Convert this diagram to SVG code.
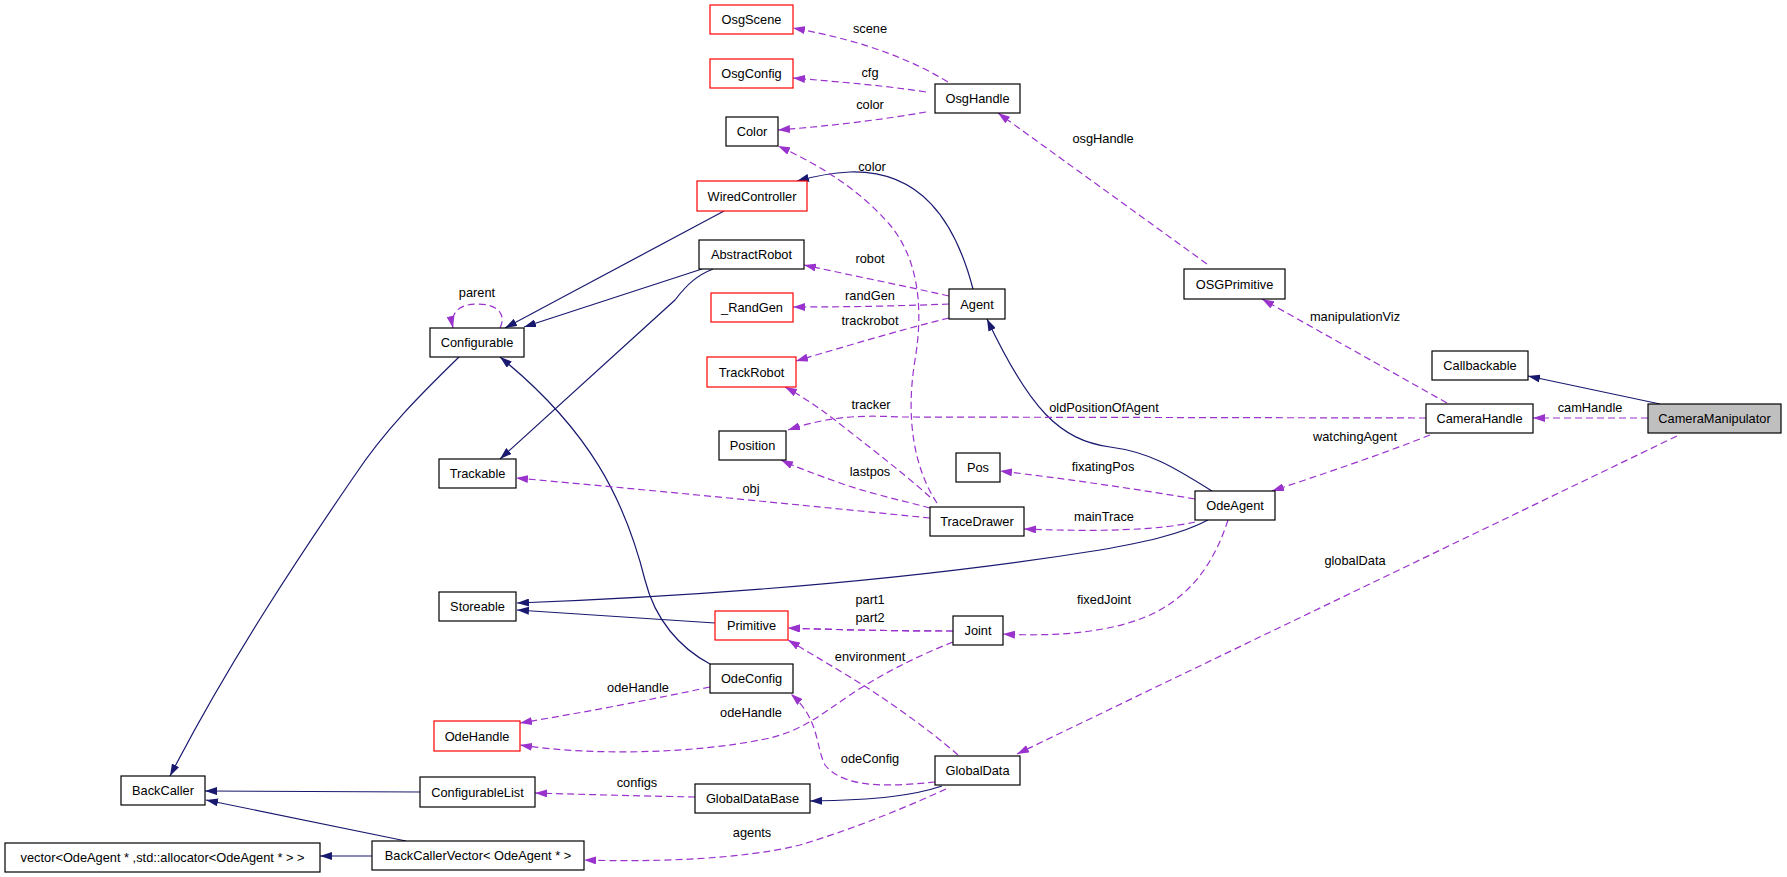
<svg xmlns="http://www.w3.org/2000/svg" width="1787" height="877" viewBox="0 0 1787 877">
<style>
text{font-family:"Liberation Sans",Arial,Helvetica,sans-serif;font-size:12.8px;fill:#000;text-anchor:middle}
.n rect{fill:#fff;stroke:#000;stroke-width:1.2}
.n.r rect{stroke:#ff0000}
.n.g rect{fill:#bfbfbf}
.inh{fill:none;stroke:#191970;stroke-width:1.2;marker-end:url(#ab)}
.use{fill:none;stroke:#9a32cd;stroke-width:1.2;stroke-dasharray:7,4;marker-end:url(#ap)}
</style>
<defs>
<marker id="ab" viewBox="0 0 12 8" refX="12" refY="4" markerWidth="12" markerHeight="8" markerUnits="userSpaceOnUse" orient="auto"><path d="M0,0 L12,4 L0,8 z" fill="#191970"/></marker>
<marker id="ap" viewBox="0 0 12 8" refX="12" refY="4" markerWidth="12" markerHeight="8" markerUnits="userSpaceOnUse" orient="auto"><path d="M0,0 L12,4 L0,8 z" fill="#9a32cd"/></marker>
</defs>
<rect width="1787" height="877" fill="#fff"/>
<g id="connectors">
<path class="inh" d="M1660,404 L1528,376"/>
<path class="inh" d="M973,289 C955,220 920,170 850,172 C830,173 815,176 797,181"/>
<path class="inh" d="M724,211 L505,328"/>
<path class="inh" d="M702,269 L524,327"/>
<path class="inh" d="M713,269 C698,275 688,283 675,300 L500,459"/>
<path class="inh" d="M710,664 C680,648 655,620 645,580 C625,500 590,430 500,357"/>
<path class="inh" d="M1212,491 C1175,468 1150,452 1110,447 C1060,440 1030,410 987,319"/>
<path class="inh" d="M1208,520 C1180,535 1140,543 1100,550 C900,582 700,596 517,603"/>
<path class="inh" d="M715,623 L517,610"/>
<path class="inh" d="M420,792 L205,791"/>
<path class="inh" d="M406,841 L206,800"/>
<path class="inh" d="M372,856 L320,856"/>
<path class="inh" d="M459,357 C420,395 385,430 355,475 C300,555 230,660 170,776"/>
<path class="inh" d="M942,786 C915,795 880,800 810,801"/>

<path class="use" d="M948,82 C915,62 870,42 793,28"/>
<text x="870" y="33">scene</text>
<path class="use" d="M926,92 C880,85 840,82 793,78"/>
<text x="870" y="77">cfg</text>
<path class="use" d="M926,112 C880,120 830,126 778,130"/>
<text x="870" y="109">color</text>
<path class="use" d="M1207,264 L998,113"/>
<text x="1103" y="143">osgHandle</text>
<path class="use" d="M937,503 C915,470 905,420 915,360 C925,300 915,255 890,225 C860,190 820,165 778,146"/>
<text x="872" y="171">color</text>
<path class="use" d="M949,296 C900,285 850,275 804,265"/>
<text x="870" y="263">robot</text>
<path class="use" d="M949,304 C900,306 850,307 793,307"/>
<text x="870" y="300">randGen</text>
<path class="use" d="M949,318 C900,330 850,345 796,361"/>
<text x="870" y="325">trackrobot</text>
<path class="use" d="M1447,403 L1262,299"/>
<text x="1355" y="321">manipulationViz</text>
<path class="use" d="M1426,418 L900,417 C860,415 830,416 788,430"/>
<text x="1104" y="412">oldPositionOfAgent</text>
<path class="use" d="M930,497 C900,470 860,440 835,420 C815,405 800,395 785,387"/>
<text x="871" y="409">tracker</text>
<path class="use" d="M930,508 C900,500 868,493 840,483 C815,474 798,468 781,460"/>
<text x="870" y="476">lastpos</text>
<path class="use" d="M930,518 C800,505 650,490 516,478"/>
<text x="751" y="493">obj</text>
<path class="use" d="M1195,499 C1130,488 1060,478 1000,471"/>
<text x="1103" y="471">fixatingPos</text>
<path class="use" d="M1195,522 C1160,530 1100,532 1024,529"/>
<text x="1104" y="521">mainTrace</text>
<path class="use" d="M1648,418 L1533,418"/>
<text x="1590" y="412">camHandle</text>
<path class="use" d="M1430,435 C1380,455 1320,475 1272,491"/>
<text x="1355" y="441">watchingAgent</text>
<path class="use" d="M1677,436 L1017,754"/>
<text x="1355" y="565">globalData</text>
<path class="use" d="M1228,520 C1215,560 1195,590 1160,610 C1120,632 1060,637 1003,634"/>
<text x="1104" y="604">fixedJoint</text>
<path class="use" d="M953,631 C900,631 840,630 788,628"/>
<path class="use" d="M953,631 C900,631 840,630 788,628"/>
<text x="870" y="604">part1</text>
<text x="870" y="622">part2</text>
<path class="use" d="M953,642 C915,657 880,675 850,695 C820,715 800,733 760,740 C700,752 600,757 520,745"/>
<text x="751" y="717">odeHandle</text>
<path class="use" d="M710,687 C650,700 580,713 520,723"/>
<text x="638" y="692">odeHandle</text>
<path class="use" d="M958,755 C930,730 880,695 850,677 C825,662 805,650 788,640"/>
<text x="870" y="661">environment</text>
<path class="use" d="M935,782 C895,786 845,790 825,765 C815,745 820,720 791,694"/>
<text x="870" y="763">odeConfig</text>
<path class="use" d="M695,797 C650,796 600,795 535,793"/>
<text x="637" y="787">configs</text>
<path class="use" d="M946,789 C900,810 850,830 800,845 C740,860 650,862 584,860"/>
<text x="752" y="837">agents</text>
<path class="use" d="M500,328 C506,316 500,304 477,304 C458,304 450,314 453,328"/>
<text x="477" y="297">parent</text>
</g>

<g id="CameraManipulator" class="n g"><rect x="1648" y="404" width="133" height="29"/><text x="1714.5" y="423">CameraManipulator</text></g>
<g id="Callbackable" class="n"><rect x="1432" y="351" width="96" height="29"/><text x="1480" y="370">Callbackable</text></g>
<g id="CameraHandle" class="n"><rect x="1426" y="404" width="107" height="29"/><text x="1479.5" y="423">CameraHandle</text></g>
<g id="OSGPrimitive" class="n"><rect x="1184" y="269" width="101" height="30"/><text x="1234.5" y="289">OSGPrimitive</text></g>
<g id="OdeAgent" class="n"><rect x="1195" y="491" width="80" height="29"/><text x="1235" y="510">OdeAgent</text></g>
<g id="OsgHandle" class="n"><rect x="935" y="84" width="85" height="29"/><text x="977.5" y="103">OsgHandle</text></g>
<g id="Agent" class="n"><rect x="949" y="289" width="56" height="30"/><text x="977" y="309">Agent</text></g>
<g id="Pos" class="n"><rect x="956" y="453" width="44" height="29"/><text x="978" y="472">Pos</text></g>
<g id="TraceDrawer" class="n"><rect x="930" y="507" width="94" height="29"/><text x="977" y="526">TraceDrawer</text></g>
<g id="Joint" class="n"><rect x="953" y="616" width="50" height="29"/><text x="978" y="635">Joint</text></g>
<g id="GlobalData" class="n"><rect x="935" y="756" width="85" height="29"/><text x="977.5" y="775">GlobalData</text></g>
<g id="OsgScene" class="n r"><rect x="710" y="5" width="83" height="29"/><text x="751.5" y="24">OsgScene</text></g>
<g id="OsgConfig" class="n r"><rect x="710" y="59" width="83" height="29"/><text x="751.5" y="78">OsgConfig</text></g>
<g id="Color" class="n"><rect x="726" y="117" width="52" height="29"/><text x="752" y="136">Color</text></g>
<g id="WiredController" class="n r"><rect x="697" y="181" width="110" height="30"/><text x="752" y="201">WiredController</text></g>
<g id="AbstractRobot" class="n"><rect x="699" y="240" width="105" height="29"/><text x="751.5" y="259">AbstractRobot</text></g>
<g id="RandGen" class="n r"><rect x="711" y="293" width="82" height="29"/><text x="752" y="312">_RandGen</text></g>
<g id="TrackRobot" class="n r"><rect x="707" y="357" width="89" height="30"/><text x="751.5" y="377">TrackRobot</text></g>
<g id="Position" class="n"><rect x="719" y="431" width="67" height="29"/><text x="752.5" y="450">Position</text></g>
<g id="Primitive" class="n r"><rect x="715" y="611" width="73" height="29"/><text x="751.5" y="630">Primitive</text></g>
<g id="OdeConfig" class="n"><rect x="710" y="664" width="83" height="29"/><text x="751.5" y="683">OdeConfig</text></g>
<g id="GlobalDataBase" class="n"><rect x="695" y="784" width="115" height="29"/><text x="752.5" y="803">GlobalDataBase</text></g>
<g id="Configurable" class="n"><rect x="430" y="328" width="94" height="29"/><text x="477" y="347">Configurable</text></g>
<g id="Trackable" class="n"><rect x="439" y="459" width="77" height="29"/><text x="477.5" y="478">Trackable</text></g>
<g id="Storeable" class="n"><rect x="439" y="592" width="77" height="29"/><text x="477.5" y="611">Storeable</text></g>
<g id="OdeHandle" class="n r"><rect x="434" y="721" width="86" height="30"/><text x="477" y="741">OdeHandle</text></g>
<g id="ConfigurableList" class="n"><rect x="420" y="777" width="115" height="30"/><text x="477.5" y="797">ConfigurableList</text></g>
<g id="BackCallerVector" class="n"><rect x="372" y="841" width="212" height="29"/><text x="478" y="860">BackCallerVector&lt; OdeAgent * &gt;</text></g>
<g id="BackCaller" class="n"><rect x="121" y="776" width="84" height="29"/><text x="163" y="795">BackCaller</text></g>
<g id="vector" class="n"><rect x="5" y="843" width="315" height="29"/><text x="162.5" y="862">vector&lt;OdeAgent * ,std::allocator&lt;OdeAgent * &gt; &gt;</text></g>
</svg>
